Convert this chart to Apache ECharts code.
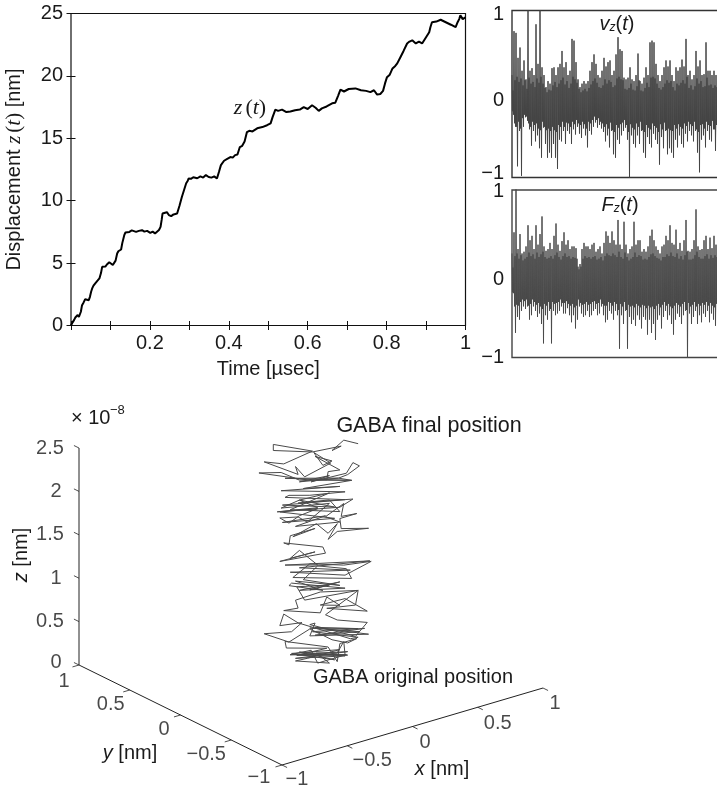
<!DOCTYPE html>
<html>
<head>
<meta charset="utf-8">
<script src="https://cdn.jsdelivr.net/npm/echarts@6/dist/echarts.min.js"></script>
<style>html,body{margin:0;padding:0;background:#fff}#c{width:717px;height:789px}</style>
</head>
<body>
<div id="c"></div>
<script>
// ---- Displacement z(t)
var timeUs = [0,.004,.008,.011,.014,.017,.020,.022,.025,.028,.032,.036,.040,.045,.048,.051,.054,.057,.062,.067,.072,.076,.079,.083,.087,.091,.094,.097,.101,.106,.110,.113,.117,.120,.124,.127,.130,.135,.138,.142,.148,.154,.159,.165,.172,.180,.186,.193,.201,.207,.213,.218,.223,.227,.230,.232,.236,.243,.248,.254,.260,.265,.269,.275,.281,.287,.292,.296,.298,.304,.310,.320,.328,.335,.342,.349,.356,.363,.370,.375,.380,.383,.388,.396,.404,.410,.416,.422,.428,.434,.440,.446,.452,.460,.472,.485,.497,.506,.511,.518,.525,.535,.546,.556,.568,.580,.590,.600,.611,.620,.628,.636,.648,.662,.670,.677,.683,.692,.704,.721,.735,.748,.759,.768,.776,.784,.791,.796,.801,.808,.815,.822,.827,.835,.843,.852,.858,.865,.874,.882,.890,.900,.908,.911,.915,.918,.926,.937,.950,.963,.975,.980,.984,.987,.993,1];
var displacementNm = [0,.25,.45,.64,.72,.85,.68,.62,1.1,1.63,1.85,2.11,2.02,2.03,2.3,2.7,3.0,3.2,3.4,3.55,3.77,4.2,4.7,4.75,4.72,4.89,4.85,5.07,4.95,4.85,4.72,5.2,5.77,5.95,6.05,6.09,6.6,7.24,7.45,7.56,7.5,7.62,7.56,7.5,7.58,7.64,7.52,7.58,7.42,7.52,7.38,7.5,7.65,7.9,8.5,8.97,9.05,9.08,8.85,8.76,8.9,8.85,8.97,9.6,10.3,10.9,11.4,11.6,11.78,11.75,11.88,11.8,11.95,11.85,12.05,11.9,11.85,11.95,11.78,12.3,12.85,12.98,13.2,13.35,13.5,13.45,13.65,13.7,14.3,14.4,14.75,15.5,15.6,15.55,15.8,15.9,16.05,16.2,16.7,17.3,17.2,17.3,17.1,17.15,17.25,17.3,17.5,17.35,17.65,17.45,17.2,17.4,17.55,17.8,17.85,18.4,18.9,18.75,18.95,19,18.85,18.8,18.7,18.85,18.5,18.55,18.8,19.4,19.9,20.1,20.6,20.8,21,21.5,22,22.6,22.75,22.85,22.6,22.75,22.6,23.1,23.5,23.9,24.3,24.4,24.35,24.5,24.3,24.1,23.9,24.3,24.55,24.85,24.55,24.7];
var timeTickLabels = {0.2:'0.2',0.4:'0.4',0.6:'0.6',0.8:'0.8',1:'1'};

// ---- Velocity v_z(t), normalised: maxima and minima of each stretch, and the smaller swings between them
var vzUpper = [.30,.81,.79,.50,.62,.35,.47,.25,1.05,.35,.38,.30,.89,.43,1.05,.39,.30,.16,.23,.20,.38,.39,.30,.39,.43,.58,.39,.45,.30,.35,.72,.70,.45,.25,.16,.20,.23,.20,.23,.35,.45,.54,.43,.30,.27,.35,.50,.40,.45,.47,.30,.35,.54,.74,.60,.58,.27,.25,.27,.39,.25,.23,.30,.55,.23,.20,.27,.39,.30,.68,.70,.68,.43,.30,.23,.30,.39,.47,.40,.47,.30,.23,.39,.35,.39,.48,.40,.72,.30,.35,.25,.30,.58,.40,.47,.30,.31,.68,.35,.35,.30,.35,.30];
var vzLower = [-.16,-.30,-.76,-.35,-.87,-.30,-.19,-.23,-.33,-.52,-.35,-.47,-.40,-.55,-.66,-.31,-.50,-.66,-.60,-.66,-.50,-.66,-.79,-.45,-.47,-.35,-.50,-.35,-.38,-.50,-.33,-.39,-.30,-.38,-.43,-.32,-.40,-.54,-.35,-.39,-.30,-.25,-.31,-.28,-.32,-.36,-.47,-.40,-.54,-.35,-.62,-.66,-.45,-.50,-.40,-.35,-.31,-.45,-.89,-.40,-.50,-.54,-.40,-.50,-.35,-.60,-.66,-.42,-.50,-.54,-.38,-.45,-.50,-.74,-.42,-.55,-.35,-.62,-.55,-.60,-.66,-.45,-.54,-.40,-.50,-.54,-.38,-.47,-.35,-.40,-.47,-.35,-.60,-.83,-.45,-.40,-.54,-.35,-.45,-.47,-.33,-.58,-.42];
var vzInnerUpper = [.12,.24,.28,.22,.26,.18,.24,.14,.27,.20,.22,.16,.26,.21,.28,.20,.15,.10,.13,.12,.18,.22,.16,.20,.24,.27,.19,.23,.15,.20,.28,.25,.21,.14,.10,.12,.14,.11,.15,.19,.23,.26,.21,.16,.15,.18,.25,.20,.24,.22,.16,.18,.26,.28,.25,.24,.14,.13,.15,.20,.13,.12,.17,.24,.12,.11,.15,.21,.16,.27,.28,.26,.20,.15,.13,.16,.20,.24,.21,.23,.16,.12,.20,.18,.21,.24,.20,.28,.15,.18,.13,.17,.26,.20,.23,.16,.17,.27,.18,.19,.15,.18,.16];
var vzInnerLower = [-.12,-.26,-.30,-.24,-.32,-.20,-.16,-.18,-.26,-.30,-.24,-.28,-.26,-.32,-.34,-.24,-.30,-.34,-.32,-.35,-.30,-.34,-.36,-.28,-.30,-.24,-.30,-.25,-.26,-.30,-.24,-.27,-.22,-.26,-.28,-.24,-.27,-.32,-.24,-.26,-.22,-.18,-.22,-.20,-.24,-.26,-.30,-.27,-.32,-.25,-.34,-.36,-.28,-.31,-.27,-.25,-.22,-.28,-.36,-.27,-.31,-.33,-.26,-.30,-.24,-.34,-.36,-.28,-.31,-.33,-.26,-.29,-.31,-.36,-.27,-.33,-.25,-.34,-.32,-.34,-.35,-.28,-.32,-.27,-.30,-.32,-.26,-.29,-.24,-.27,-.29,-.24,-.33,-.36,-.28,-.27,-.32,-.24,-.28,-.29,-.23,-.33,-.28];

// ---- Force F_z(t), normalised: maxima and minima of each stretch, and the smaller swings between them
var fzUpper = [.30,.54,1.05,.35,.52,.30,.32,.38,.62,.45,.50,.35,.62,.40,.52,.72,.38,.33,.35,.42,.35,.50,.64,.40,.33,.44,.54,.40,.45,.35,.38,.38,.36,.15,.18,.35,.42,.38,.38,.35,.40,.42,.32,.35,.38,.30,.42,.55,.50,.42,.55,.45,.40,.68,.40,.35,.66,.40,.30,.35,.38,.66,.40,.45,.45,.32,.35,.32,.38,.50,.57,.45,.38,.34,.30,.38,.40,.50,.45,.62,.42,.40,.57,.35,.42,.33,.45,.68,.33,.32,.35,.45,.80,.38,.34,.35,.45,.50,.35,.48,.36,.50,.40];
var fzLower = [-.15,-.60,-.42,-.45,-.35,-.30,-.33,-.30,-.45,-.40,-.30,-.35,-.42,-.38,-.50,-.72,-.40,-.45,-.35,-.72,-.35,-.40,-.38,-.35,-.30,-.38,-.38,-.32,-.40,-.48,-.40,-.55,-.45,-.30,-.38,-.42,-.40,-.35,-.42,-.40,-.35,-.33,-.40,-.38,-.30,-.40,-.48,-.45,-.35,-.38,-.45,-.35,-.40,-.78,-.40,-.50,-.35,-.78,-.42,-.50,-.45,-.52,-.40,-.45,-.55,-.42,-.45,-.62,-.45,-.60,-.50,-.68,-.45,-.40,-.55,-.42,-.35,-.45,-.40,-.50,-.62,-.45,-.38,-.42,-.50,-.40,-.35,-.92,-.38,-.50,-.42,-.35,-.50,-.40,-.48,-.38,-.42,-.35,-.48,-.38,-.45,-.52,-.40];
var fzInnerUpper = [.14,.27,.30,.24,.28,.22,.24,.26,.31,.27,.29,.24,.31,.26,.29,.32,.26,.24,.25,.27,.24,.28,.31,.26,.23,.27,.30,.26,.27,.24,.26,.25,.24,.12,.15,.24,.27,.25,.26,.24,.26,.27,.23,.24,.26,.22,.27,.30,.28,.27,.30,.28,.26,.32,.26,.24,.31,.26,.22,.24,.26,.31,.26,.28,.27,.23,.24,.23,.26,.29,.30,.27,.25,.24,.22,.26,.26,.29,.27,.31,.27,.26,.30,.24,.27,.23,.28,.32,.23,.23,.24,.28,.32,.26,.24,.24,.27,.29,.24,.28,.25,.28,.26];
var fzInnerLower = [-.14,-.30,-.28,-.29,-.25,-.22,-.24,-.22,-.29,-.27,-.22,-.25,-.28,-.26,-.30,-.33,-.27,-.29,-.25,-.33,-.25,-.27,-.26,-.25,-.22,-.26,-.26,-.24,-.27,-.29,-.27,-.31,-.29,-.22,-.26,-.28,-.27,-.25,-.28,-.27,-.25,-.24,-.27,-.26,-.22,-.27,-.29,-.29,-.25,-.26,-.29,-.25,-.27,-.34,-.27,-.30,-.25,-.34,-.28,-.30,-.29,-.31,-.27,-.29,-.31,-.28,-.29,-.32,-.29,-.31,-.30,-.33,-.29,-.27,-.31,-.28,-.25,-.29,-.27,-.30,-.32,-.29,-.26,-.28,-.30,-.27,-.25,-.34,-.26,-.30,-.28,-.25,-.30,-.27,-.29,-.26,-.28,-.25,-.29,-.26,-.29,-.31,-.27];

// ---- 3-D trajectory (x in nm, z in units of 1e-8), y about constant
var trajectoryY = 0.23;
var trajectoryX = [.54,.43,.34,.41,.19,-.11,-.11,.19,-.03,-.18,.08,.06,.13,.33,.20,.27,.34,.21,.40,.31,.30,.16,-.22,-.05,.09,.49,-.02,.39,.09,.32,.18,.45,.50,.55,.46,.39,.49,.12,.40,-.05,.44,.17,.01,-.02,.44,-.04,.36,.09,.32,.02,.40,.32,.08,.50,.40,-.08,.23,.09,-.05,.32,.15,.08,-.06,.01,.09,.23,-.06,.36,-.04,.29,.06,.40,.29,.43,.41,.53,.40,.41,.62,.38,.31,.38,.31,.22,.04,.21,.02,.01,-.03,-.03,.27,.29,-.06,.21,.02,.09,.23,-.02,.63,.09,.48,.02,.44,.64,.43,.17,.04,.49,.45,.23,.12,.40,.06,.27,.01,.03,.44,.09,.40,.17,.32,.07,.13,.54,.25,.06,.08,-.03,.25,.30,.40,.25,.44,.61,.30,.52,.54,.29,.38,.61,.52,.17,.21,.17,.62,.21,.54,.17,.55,.21,.59,.19,.54,.48,.08,-.03,-.06,.11,.03,-.18,.01,.17,.34,.46,.53,.40,.38,.31,-.02,-.01,.30,.07,.46,.02,.18,.23,.45,.02,.46,.06,.44,.09,.36,.03,.40,.15,.06,.32,.22,.38,.43,.44];
var trajectoryZ = [2.31,2.40,2.32,2.34,2.37,2.52,2.59,2.38,2.33,2.42,2.16,2.26,2.11,2.18,2.36,2.18,2.20,2.31,2.07,2.09,2.00,2.06,2.31,2.24,2.09,1.91,2.16,1.98,2.07,2.04,2.03,2.01,2.11,2.05,1.99,1.98,1.91,1.98,1.88,2.03,1.80,1.88,1.95,1.94,1.71,1.86,1.66,1.86,1.84,1.78,1.59,1.76,1.83,1.69,1.64,1.80,1.71,1.86,1.83,1.72,1.58,1.67,1.72,1.63,1.68,1.70,1.79,1.53,1.66,1.59,1.57,1.47,1.58,1.67,1.53,1.51,1.51,1.39,1.30,1.37,1.31,1.46,1.38,1.53,1.46,1.48,1.48,1.38,1.42,1.42,1.24,1.16,1.22,1.21,1.22,1.28,1.05,1.16,.92,1.08,.88,1.06,.84,.91,.96,1.09,.99,.78,.91,1.04,.93,.74,.94,.74,.91,.93,.69,.82,.78,.79,.78,.87,.69,.62,.73,.72,.62,.64,.49,.65,.51,.58,.57,.35,.52,.46,.62,.45,.35,.22,.10,.39,.39,.26,.08,.34,.18,.35,.14,.25,.16,.30,.08,.09,.45,.60,.48,.44,.37,.44,.26,.34,.14,.05,.07,.07,-.13,.07,.28,.20,.06,.08,-.09,.11,.09,-.08,-.08,.11,-.05,.05,-.09,.11,-.10,.12,0,.01,.02,-.12,.04,-.03,.08,-.08];
var xTicks3d = [-1,-0.5,0,0.5,1];
var yTicks3d = [1,0.5,0,-0.5,-1];
var zTicks3d = [0,0.5,1,1.5,2,2.5];

// ---- view transform of the 3-D box, from axes units to page position
function project(x, y, z) {
  return [282 + (x + 1) * 130.5 - (y + 1) * 101.5,
          765 - (x + 1) * 38.5 - (y + 1) * 50 - z * 86.8];
}
function fmt(v) { return String(v).replace('-', '\u2212'); }

var FONT = '"Liberation Sans", Arial, sans-serif';
var SERIF = '"Liberation Serif", serif';
var FS = 20, INK = '#1a1a1a';

function zigzag(up, lo, innerUp, innerLo) {
  var out = [];
  for (var i = 0; i < up.length; i++) {
    out.push([2 * i, up[i]]);
    out.push([2 * i + 0.5, innerLo[i]]);
    out.push([2 * i + 1, innerUp[i]]);
    out.push([2 * i + 1.5, lo[i]]);
  }
  return out;
}
function segs(list) {
  var out = [];
  list.forEach(function (s) { out.push(s[0], s[1], ['-', '-']); });
  return out;
}

var xLabelOff = {'-1':[15,14], '-0.5':[25,15], '0':[12.5,15.5], '0.5':[20,16], '1':[12,15]};
var yLabelOff = {'1':[-15,16], '0.5':[-19,14], '0':[-16.5,14], '-0.5':[-25,14], '-1':[-23,12]};

function tickLabels(list, toPoint, offs) {
  return list.map(function (v) {
    return { value: toPoint(v), label: { show: true, position: 'inside', formatter: fmt(v),
      offset: offs(v), fontFamily: FONT, fontSize: FS, color: INK, align: 'center', verticalAlign: 'middle' } };
  });
}
function labelSeries(data) {
  return { type: 'scatter', xAxisIndex: 5, yAxisIndex: 5, symbolSize: 1, silent: true,
    itemStyle: { color: 'transparent' }, data: data, z: 5 };
}
function box3d(data, w) {
  return { type: 'line', xAxisIndex: 5, yAxisIndex: 5, showSymbol: false, symbol: 'none', silent: true,
    clip: false, connectNulls: false, data: data, lineStyle: { color: '#222', width: w } };
}
function plain(extra) {
  return Object.assign({ show: false, type: 'value', scale: false }, extra);
}
function panelLabel(x, y, letter) {
  return { type: 'text', x: x, y: y, silent: true, style: { text: '{i|' + letter + '}{u|z}{p|(}{i|t}{p|)}', align: 'center', verticalAlign: 'middle',
    rich: { i: { fontFamily: FONT, fontStyle: 'italic', fontSize: FS, fill: INK },
            p: { fontFamily: FONT, fontSize: FS, fill: INK },
            u: { fontFamily: FONT, fontStyle: 'italic', fontSize: 12, fill: INK, verticalAlign: 'bottom', padding: [8, 0, 0, 0] } } } };
}

var chart = echarts.init(document.getElementById('c'), null, { renderer: 'canvas' });
chart.setOption({
  animation: false,
  backgroundColor: '#fff',
  grid: [
    { outerBoundsMode: 'none', left: 71, top: 13.5, width: 394.5, height: 312, show: true, borderColor: '#111', borderWidth: 1.2 },
    { outerBoundsMode: 'none', left: 512, top: 10.5, width: 215, height: 167, show: true, borderColor: '#333', borderWidth: 1.4 },
    { outerBoundsMode: 'none', left: 512, top: 190, width: 215, height: 167.5, show: true, borderColor: '#444', borderWidth: 1.4 },
    { outerBoundsMode: 'none', left: 0, top: 0, width: 717, height: 789 }
  ],
  xAxis: [
    { gridIndex: 0, type: 'value', min: 0, max: 1, interval: 0.1, position: 'bottom',
      axisLine: { show: false }, splitLine: { show: false },
      axisTick: { show: true, inside: true, length: 4.5, lineStyle: { color: '#111', width: 1 } },
      axisLabel: { margin: 8, fontFamily: FONT, fontSize: FS, color: INK, hideOverlap: false, showMinLabel: true,
        formatter: function (v) { return timeTickLabels[Math.round(v * 10) / 10] || ''; } },
      name: 'Time [\u00b5sec]', nameLocation: 'middle', nameGap: 34,
      nameTextStyle: { fontFamily: FONT, fontSize: FS, color: INK } },
    { gridIndex: 0, type: 'value', min: 0, max: 1, interval: 0.1, position: 'top',
      axisLine: { show: false }, splitLine: { show: false }, axisLabel: { show: false },
      axisTick: { show: true, inside: true, length: 4.5, lineStyle: { color: '#111', width: 1 } } },
    plain({ gridIndex: 1, min: 0, max: 215 }),
    plain({ gridIndex: 2, min: 0, max: 215 }),
    plain({ gridIndex: 1, min: 0, max: 215 }),
    plain({ gridIndex: 3, min: 0, max: 717 })
  ],
  yAxis: [
    { gridIndex: 0, type: 'value', min: 0, max: 25, interval: 5, position: 'left',
      axisLine: { show: false }, splitLine: { show: false },
      axisTick: { show: true, inside: true, length: 4.5, lineStyle: { color: '#111', width: 1 } },
      axisLabel: { margin: 8, fontFamily: FONT, fontSize: FS, color: INK, padding: [3, 0, 0, 0] },
      name: '{a|Displacement }{z|z}{s|(}{i|t}{s|)}{a| [nm]}', nameLocation: 'middle', nameGap: 46, nameRotate: 90,
      nameTextStyle: { rich: {
        a: { fontFamily: FONT, fontSize: FS, color: INK },
        z: { fontFamily: SERIF, fontStyle: 'italic', fontSize: 21, color: INK, padding: [0, 3, 0, 0] },
        i: { fontFamily: SERIF, fontStyle: 'italic', fontSize: 21, color: INK },
        s: { fontFamily: SERIF, fontSize: 21, color: INK } } } },
    { gridIndex: 0, type: 'value', min: 0, max: 25, interval: 5, position: 'right',
      axisLine: { show: false }, splitLine: { show: false }, axisLabel: { show: false },
      axisTick: { show: true, inside: true, length: 4.5, lineStyle: { color: '#111', width: 1 } } },
    { gridIndex: 1, type: 'value', min: -0.89, max: 1.05, splitLine: { show: false },
      axisLine: { show: false }, axisTick: { show: false },
      axisLabel: { margin: 8, fontFamily: FONT, fontSize: FS, color: INK, padding: [3, 0, 0, 0], customValues: [-0.84, 0, 1],
        formatter: function (v) { return v < 0 ? '\u22121' : String(v); } } },
    { gridIndex: 2, type: 'value', min: -0.88, max: 1.02, splitLine: { show: false },
      axisLine: { show: false }, axisTick: { show: false },
      axisLabel: { margin: 8, fontFamily: FONT, fontSize: FS, color: INK, padding: [3, 0, 0, 0], customValues: [-0.88, 0, 1],
        formatter: function (v) { return v < 0 ? '\u22121' : String(v); } } },
    plain({ gridIndex: 1, min: -0.89, max: 1.05 }),
    plain({ gridIndex: 3, min: 0, max: 789, inverse: true })
  ],
  series: [
    { type: 'line', xAxisIndex: 0, yAxisIndex: 0, showSymbol: false, symbol: 'none', clip: true, silent: true,
      data: timeUs.map(function (t, i) { return [t, displacementNm[i]]; }),
      lineStyle: { color: '#000', width: 2 } },
    { type: 'line', xAxisIndex: 2, yAxisIndex: 2, showSymbol: false, symbol: 'none', clip: true, silent: true,
      data: zigzag(vzUpper, vzLower, vzInnerUpper, vzInnerLower), lineStyle: { color: '#444', width: 1 } },
    { type: 'line', xAxisIndex: 3, yAxisIndex: 3, showSymbol: false, symbol: 'none', clip: true, silent: true,
      data: zigzag(fzUpper, fzLower, fzInnerUpper, fzInnerLower), lineStyle: { color: '#4a4a4a', width: 1 } },
    { type: 'line', xAxisIndex: 5, yAxisIndex: 5, showSymbol: false, symbol: 'none', clip: false, silent: true,
      data: trajectoryX.map(function (x, i) { return project(x, trajectoryY, trajectoryZ[i]); }),
      lineStyle: { color: '#4a4a4a', width: 1 } },
    box3d([project(-1, 1, 0), project(-1, 1, 2.5)], 1),
    box3d([project(-1, 1, 0), project(-1, -1, 0), project(1, -1, 0)], 1),
    box3d(segs(zTicks3d.map(function (v) { var p = project(-1, 1, v); return [p, project(-1, 1.05, v)]; })), 0.8),
    box3d(segs(yTicks3d.map(function (v) { var p = project(-1, v, 0); return [p, project(-1.05, v, 0)]; })), 0.8),
    box3d(segs(xTicks3d.map(function (v) { var p = project(v, -1, 0); return [p, project(v, -1.05, 0)]; })), 0.8),
    labelSeries(tickLabels(xTicks3d, function (v) { return project(v, -1, 0); }, function (v) { return xLabelOff[v]; })),
    labelSeries(tickLabels(yTicks3d, function (v) { return project(-1, v, 0); }, function (v) { return yLabelOff[v]; })),
    labelSeries(tickLabels(zTicks3d, function (v) { return project(-1, 1, v); }, function (v) { return [v >= 2.5 || v === 1.5 || v === 0.5 ? -29 : -23, v === 0 ? -3 : 0]; }))
  ],
  graphic: { elements: [
    { type: 'text', x: 250, y: 108, silent: true, style: { text: '{z|z}{s|(}{i|t}{s|)}', align: 'center', verticalAlign: 'middle',
      rich: { z: { fontFamily: SERIF, fontStyle: 'italic', fontSize: 22, fill: INK, padding: [0, 3, 0, 0] },
              i: { fontFamily: SERIF, fontStyle: 'italic', fontSize: 22, fill: INK },
              s: { fontFamily: SERIF, fontSize: 22, fill: INK } } } },
    panelLabel(617, 24, 'v'),
    panelLabel(620, 205, 'F'),
    { type: 'text', x: 71, y: 418, silent: true, style: { text: '\u00d7 10', verticalAlign: 'middle', fontFamily: FONT, fontSize: FS, fill: INK } },
    { type: 'text', x: 110, y: 410, silent: true, style: { text: '\u22128', verticalAlign: 'middle', fontFamily: FONT, fontSize: 13, fill: INK } },
    { type: 'text', x: 429, y: 426, silent: true, style: { text: 'GABA final position', align: 'center', verticalAlign: 'middle', fontFamily: FONT, fontSize: 21.5, fill: INK } },
    { type: 'text', x: 413, y: 677, silent: true, style: { text: 'GABA original position', align: 'center', verticalAlign: 'middle', fontFamily: FONT, fontSize: FS, fill: INK } },
    { type: 'text', x: 130, y: 753, silent: true, style: { text: '{i|y}{a| [nm]}', align: 'center', verticalAlign: 'middle',
      rich: { i: { fontFamily: FONT, fontStyle: 'italic', fontSize: FS, fill: INK }, a: { fontFamily: FONT, fontSize: FS, fill: INK } } } },
    { type: 'text', x: 442, y: 769, silent: true, style: { text: '{i|x}{a| [nm]}', align: 'center', verticalAlign: 'middle',
      rich: { i: { fontFamily: FONT, fontStyle: 'italic', fontSize: FS, fill: INK }, a: { fontFamily: FONT, fontSize: FS, fill: INK } } } },
    { type: 'text', x: 21, y: 555, rotation: Math.PI / 2, silent: true, style: { text: '{i|z}{a| [nm]}', align: 'center', verticalAlign: 'middle',
      rich: { i: { fontFamily: FONT, fontStyle: 'italic', fontSize: FS, fill: INK }, a: { fontFamily: FONT, fontSize: FS, fill: INK } } } }
  ] }
});
</script>
</body>
</html>
